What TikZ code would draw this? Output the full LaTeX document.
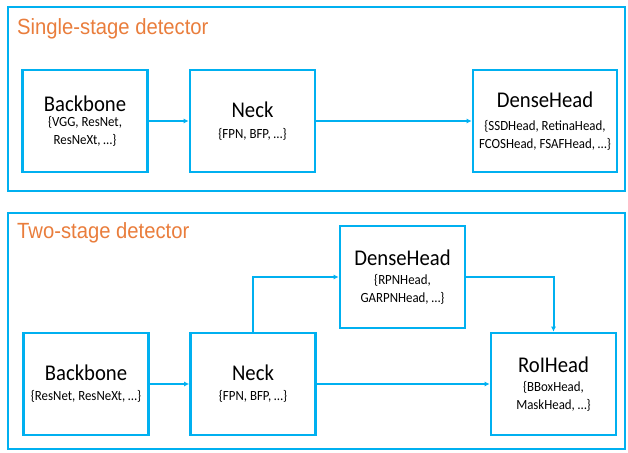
\documentclass[tikz,border=0pt]{standalone}
\usepackage{fontspec}
\usetikzlibrary{arrows.meta}
\newfontfamily\boxfont[FakeStretch=0.92]{Carlito}
\newfontfamily\stagefont[FakeStretch=0.92]{Liberation Sans}
\definecolor{detblue}{RGB}{0,176,240}
\definecolor{detorange}{RGB}{233,125,60}
\newcommand{\modname}[1]{{\fontsize{22.5}{24}\selectfont #1}}

\begin{document}
\begin{tikzpicture}[x=1pt, y=-1pt,
    frame/.style={draw=detblue, line width=2.4pt},
    module/.style={draw=detblue, line width=2.6pt, fill=white, align=center, inner sep=0pt,
        minimum width=125pt, minimum height=102pt, font=\boxfont\fontsize{14}{18}\selectfont},
    flow/.style={draw=detblue, line width=2pt, -{Latex[length=5pt,width=5pt]}},
    stage/.style={anchor=base west, text=detorange, inner sep=0pt, font=\stagefont\fontsize{22}{26}\selectfont}]
\useasboundingbox (0,0) rectangle (628,452);

% single-stage
\draw[frame] (8,7) rectangle (625,191);
\node[stage] (single) at (17,35) {Single-stage detector};
\node[module] (bb1) at (85,121) {\modname{Backbone}\\[-3pt] \{VGG, ResNet,\\ ResNeXt, \ldots\}};
\node[module] (neck1) at (252.5,121) {\modname{Neck}\\[3pt] \{FPN, BFP, \ldots\}};
\node[module, minimum width=144pt] (dense1) at (545,121) {\modname{DenseHead}\\[5pt] \{SSDHead, RetinaHead,\\ FCOSHead, FSAFHead, \ldots\}};
\draw[flow] (bb1) -- (neck1);
\draw[flow] (neck1) -- (dense1);

% two-stage
\draw[frame] (8,213) rectangle (625,449);
\node[stage] (two) at (17,238) {Two-stage detector};
\node[module] (bb2) at (86,384) {\modname{Backbone}\\[2pt] \{ResNet, ResNeXt, \ldots\}};
\node[module] (neck2) at (253,384) {\modname{Neck}\\[2pt] \{FPN, BFP, \ldots\}};
\node[module] (dense2) at (402.5,277) {\modname{DenseHead}\\[1pt] \{RPNHead,\\ GARPNHead, \ldots\}};
\node[module] (roi) at (553.5,384) {\modname{RoIHead}\\[1pt] \{BBoxHead,\\ MaskHead, \ldots\}};
\draw[flow] (bb2) -- (neck2);
\draw[flow] (neck2) -- (roi);
\draw[flow] (neck2.north) |- (dense2.west);
\draw[flow] (dense2.east) -| (roi.north);
\end{tikzpicture}
\end{document}
